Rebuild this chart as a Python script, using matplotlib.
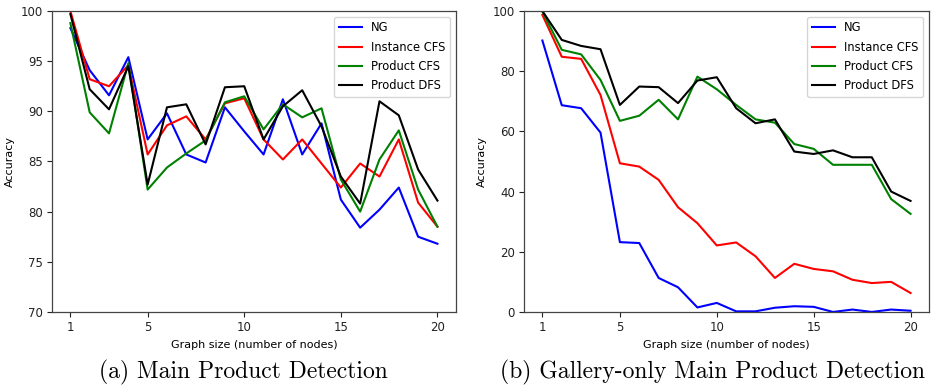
import matplotlib
matplotlib.use("Agg")
import matplotlib.pyplot as plt

sizes = list(range(1, 21))
series_names = ["NG", "Instance CFS", "Product CFS", "Product DFS"]
colors = ["blue", "red", "green", "black"]

# (a) Main Product Detection
a_ng = [98.3, 94.1, 91.6, 95.4, 87.2, 89.8, 85.7, 84.9, 90.4, 88.0,
        85.7, 91.2, 85.7, 88.8, 81.2, 78.4, 80.2, 82.4, 77.5, 76.8]
a_inst = [100.0, 93.2, 92.5, 94.6, 85.7, 88.6, 89.5, 87.2, 90.8, 91.3,
          87.2, 85.2, 87.2, 84.8, 82.4, 84.8, 83.5, 87.2, 80.9, 78.5]
a_pcfs = [98.8, 89.9, 87.8, 94.8, 82.2, 84.4, 85.8, 87.1, 90.9, 91.5,
          88.2, 90.7, 89.4, 90.3, 83.2, 80.0, 85.2, 88.1, 82.2, 78.5]
a_pdfs = [99.7, 92.2, 90.2, 94.5, 82.7, 90.4, 90.7, 86.7, 92.4, 92.5,
          87.2, 90.5, 92.1, 88.5, 83.5, 80.8, 91.0, 89.6, 84.2, 81.1]

# (b) Gallery-only Main Product Detection
b_ng = [90.2, 68.7, 67.7, 59.6, 23.2, 22.9, 11.3, 8.2, 1.5, 3.0,
        0.2, 0.2, 1.4, 1.9, 1.7, 0.0, 0.8, 0.0, 0.8, 0.4]
b_inst = [98.7, 84.8, 84.1, 72.1, 49.4, 48.3, 43.9, 34.8, 29.5, 22.1,
          23.1, 18.5, 11.3, 16.0, 14.3, 13.5, 10.7, 9.6, 10.0, 6.3]
b_pcfs = [99.8, 87.1, 85.6, 77.1, 63.5, 65.2, 70.5, 64.0, 78.2, 74.0,
          68.8, 64.0, 62.9, 55.8, 54.2, 48.9, 48.9, 48.9, 37.5, 32.6]
b_pdfs = [100.0, 90.4, 88.4, 87.3, 68.8, 74.9, 74.7, 69.4, 76.9, 78.0,
          67.7, 62.7, 64.0, 53.3, 52.5, 53.7, 51.4, 51.4, 40.0, 36.9]

xticks = [1, 5, 10, 15, 20]
captions = ["(a) Main Product Detection", "(b) Gallery-only Main Product Detection"]
xlabel = "Graph size (number of nodes)"
ylabel = "Accuracy"

fig = plt.figure(figsize=(9.34, 3.88), dpi=100)
ax1 = fig.add_axes([0.0557, 0.196, 0.4323, 0.7756])
ax2 = fig.add_axes([0.561, 0.196, 0.4336, 0.7756])

panels = [
    (ax1, [a_ng, a_inst, a_pcfs, a_pdfs], (70, 100), [70, 75, 80, 85, 90, 95, 100]),
    (ax2, [b_ng, b_inst, b_pcfs, b_pdfs], (0, 100), [0, 20, 40, 60, 80, 100]),
]

for ax, data, ylim, yticks in panels:
    for vals, name, c in zip(data, series_names, colors):
        ax.plot(sizes, vals, color=c, lw=1.5, label=name)
    ax.set_ylim(*ylim)
    ax.set_yticks(yticks)
    ax.set_xticks(xticks)
    ax.tick_params(labelsize=8.5, length=3.5, width=0.8, colors="#222222", pad=3)
    ax.set_xlabel(xlabel, fontsize=8, labelpad=4)
    ax.set_ylabel(ylabel, fontsize=8, labelpad=4)
    for s in ax.spines.values():
        s.set_color("#444444")
        s.set_linewidth(0.9)
    ax.legend(loc="upper right", fontsize=8.3, frameon=True, fancybox=True,
              handlelength=2.0, borderpad=0.4, labelspacing=0.55)

fig.text(0.261, 0.039, captions[0], fontsize=17, family="cmr10", ha="center", va="center")
fig.text(0.763, 0.039, captions[1], fontsize=17, family="cmr10", ha="center", va="center")

fig.savefig("out.png", dpi=100)
